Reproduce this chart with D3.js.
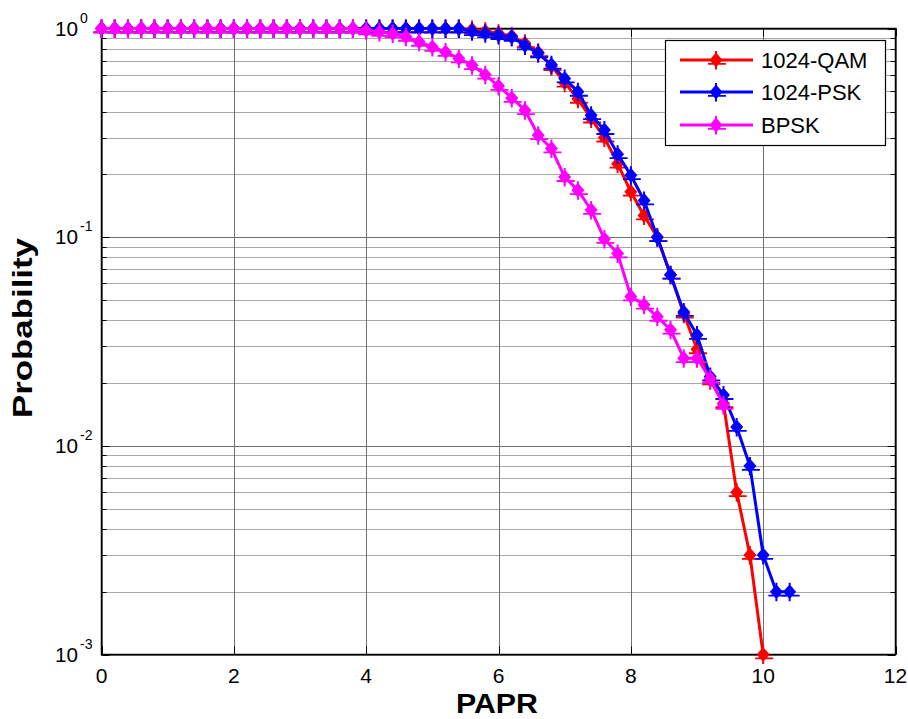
<!DOCTYPE html>
<html><head><meta charset="utf-8">
<script src="https://cdn.jsdelivr.net/npm/d3@7"></script>
<style>body{margin:0;background:#fff}svg{display:block}text{font-family:Arial,"Liberation Sans",sans-serif}</style>
</head><body><svg id="c" width="908" height="719"></svg>
<script>
const papr = [0,0.2,0.4,0.6,0.8,1,1.2,1.4,1.6,1.8,2,2.2,2.4,2.6,2.8,3,3.2,3.4,3.6,3.8,4,4.2,4.4,4.6,4.8,5,5.2,5.4,5.6,5.8,6,6.2,6.4,6.6,6.8,7,7.2,7.4,7.6,7.8,8,8.2,8.4,8.6,8.8,9,9.2,9.4,9.6,9.8,10,10.2,10.4];
const qam1024 = [1,1,1,1,1,1,1,1,1,1,1,1,1,1,1,1,1,1,1,1,1,1,1,1,1,1,1,1,0.99,0.97,0.95,0.92,0.85,0.77,0.66,0.55,0.46,0.37,0.30,0.225,0.165,0.127,0.100,0.066,0.043,0.029,0.0206,0.016,0.006,0.003,0.001];
const psk1024 = [1,1,1,1,1,1,1,1,1,1,1,1,1,1,1,1,1,1,1,1,1,1,1,1,1,1,1,1,0.97,0.95,0.93,0.91,0.83,0.76,0.67,0.576,0.497,0.384,0.326,0.25,0.198,0.150,0.100,0.066,0.0438,0.034,0.0215,0.0175,0.0123,0.008,0.003,0.002,0.002];
const bpsk = [1,1,1,1,1,1,1,1,1,1,1,1,1,1,1,1,1,1,1,1,0.98,0.963,0.946,0.912,0.863,0.816,0.772,0.718,0.667,0.60,0.53,0.465,0.406,0.308,0.266,0.194,0.168,0.135,0.098,0.0836,0.052,0.0475,0.0415,0.036,0.0263,0.0263,0.021,0.0157];
const seriesNames = ["1024-QAM","1024-PSK","BPSK"];
const seriesColors = ["#ff0000","#0000ff","#ff00ff"];
const xTicks = [0,2,4,6,8,10,12];
const yDecades = [0,-1,-2,-3];

const svg = d3.select("#c");
const L=101.5, R=895.5, T=28.5, B=654.5;
const x = d3.scaleLinear().domain([0,12]).range([L,R]);
const y = d3.scaleLog().domain([1e-3,1]).range([B,T]);

const minors=[];
for(let e=-3;e<0;e++) for(let k=2;k<=9;k++) minors.push(k*Math.pow(10,e));

const g = svg.append("g");
g.selectAll(".hm").data(minors).enter().append("line")
 .attr("x1",L).attr("x2",R).attr("y1",d=>Math.round(y(d))+0.5).attr("y2",d=>Math.round(y(d))+0.5)
 .attr("stroke","#a8a8a8").attr("stroke-width",1);
g.selectAll(".hM").data(yDecades.map(e=>Math.pow(10,e))).enter().append("line")
 .attr("x1",L).attr("x2",R).attr("y1",d=>Math.round(y(d))+0.5).attr("y2",d=>Math.round(y(d))+0.5)
 .attr("stroke","#707070").attr("stroke-width",1);
g.selectAll(".vg").data(xTicks).enter().append("line")
 .attr("x1",d=>Math.round(x(d))+0.5).attr("x2",d=>Math.round(x(d))+0.5).attr("y1",T).attr("y2",B)
 .attr("stroke","#707070").attr("stroke-width",1);

const tk = svg.append("g").attr("stroke","#000").attr("stroke-width",1);
minors.forEach(d=>{const yy=Math.round(y(d))+0.5;
  tk.append("line").attr("x1",L).attr("x2",L+5).attr("y1",yy).attr("y2",yy);
  tk.append("line").attr("x1",R-5).attr("x2",R).attr("y1",yy).attr("y2",yy);});
yDecades.forEach(e=>{const yy=Math.round(y(Math.pow(10,e)))+0.5;
  tk.append("line").attr("x1",L).attr("x2",L+8).attr("y1",yy).attr("y2",yy);
  tk.append("line").attr("x1",R-8).attr("x2",R).attr("y1",yy).attr("y2",yy);});
xTicks.forEach(d=>{const xx=Math.round(x(d))+0.5;
  tk.append("line").attr("x1",xx).attr("x2",xx).attr("y1",B).attr("y2",B-8);
  tk.append("line").attr("x1",xx).attr("x2",xx).attr("y1",T).attr("y2",T+8);});

svg.append("rect").attr("x",L).attr("y",T).attr("width",R-L).attr("height",B-T)
 .attr("fill","none").attr("stroke","#000").attr("stroke-width",1.5);

// tick labels
svg.selectAll(".xl").data(xTicks).enter().append("text")
 .attr("x",d=>x(d)).attr("y",683).attr("text-anchor","middle").attr("font-size",21).text(d=>d);
yDecades.forEach(e=>{
  const yy=y(Math.pow(10,e));
  svg.append("text").attr("x",55).attr("y",yy+7).attr("font-size",21).attr("textLength",23).attr("lengthAdjust","spacingAndGlyphs").text("10");
  svg.append("text").attr("x",80).attr("y",yy-6).attr("font-size",14).text(String(e));
});

// axis titles
svg.append("text").attr("x",497).attr("y",713).attr("text-anchor","middle")
 .attr("font-size",27).attr("font-weight","bold").attr("textLength",82).attr("lengthAdjust","spacingAndGlyphs").text("PAPR");
svg.append("text").attr("transform","translate(32,328) rotate(-90)").attr("text-anchor","middle")
 .attr("font-size",27).attr("font-weight","bold").attr("textLength",180).attr("lengthAdjust","spacingAndGlyphs").text("Probability");

// series
const markerPath = "M0,-7.5L6.5,0L0,7.5L-6.5,0Z M-8,3H10V4.8H-8Z M-1,-9H1V9.5H-1Z";
const allData=[qam1024,psk1024,bpsk];
const line = d3.line().x(d=>x(d[0])).y(d=>y(d[1]));
allData.forEach((vals,i)=>{
  const pts = vals.map((v,j)=>[papr[j],v]);
  const sg = svg.append("g");
  sg.append("path").datum(pts).attr("d",line).attr("fill","none").attr("stroke",seriesColors[i]).attr("stroke-width",3).attr("stroke-linejoin","round");
  sg.selectAll("path.m").data(pts).enter().append("path").attr("class","m")
    .attr("transform",d=>`translate(${x(d[0])},${y(d[1])})`).attr("d",markerPath).attr("fill",seriesColors[i]);
});

// legend
const lg = svg.append("g");
lg.append("rect").attr("x",665.5).attr("y",40.5).attr("width",220).attr("height",105).attr("fill","#fff").attr("stroke","#000").attr("stroke-width",1.2);
const rowsY=[60,92,125];
seriesNames.forEach((n,i)=>{
  lg.append("line").attr("x1",680).attr("x2",753).attr("y1",rowsY[i]).attr("y2",rowsY[i]).attr("stroke",seriesColors[i]).attr("stroke-width",3);
  lg.append("path").attr("transform",`translate(716,${rowsY[i]})`).attr("d",markerPath).attr("fill",seriesColors[i]);
  lg.append("text").attr("x",761).attr("y",rowsY[i]+8).attr("font-size",22).text(n);
});
</script></body></html>
